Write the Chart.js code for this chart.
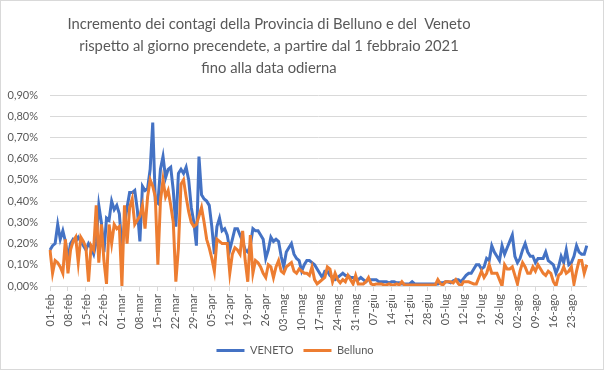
<!DOCTYPE html>
<html>
<head>
<meta charset="utf-8">
<script src="https://cdn.jsdelivr.net/npm/chart.js@4.4.0/dist/chart.umd.min.js"></script>
<style>
    html, body { margin: 0; padding: 0; background: #fff; }
    #box { position: relative; width: 604px; height: 370px; box-sizing: border-box; border: 1px solid #d9d9d9; background: #fff; }
    #titolo {
        position: absolute; left: 0; top: 11px; width: 536px;
        text-align: center; font-family: Lato, 'Liberation Sans', sans-serif;
        font-size: 14.8px; line-height: 22px; color: #595959; white-space: pre;
    }
    canvas { display: block; }
</style>
</head>
<body>
<div id="box">
    <canvas id="grafico" width="602" height="368"></canvas>
    <div id="titolo"></div>
</div>
<script>
// etichette settimanali dell'asse x (una ogni 7 giorni)
const etichetteSettimana = [
    '01-feb', '08-feb', '15-feb', '22-feb', '01-mar', '08-mar', '15-mar', '22-mar', '29-mar',
    '05-apr', '12-apr', '19-apr', '26-apr', '03-mag', '10-mag', '17-mag', '24-mag', '31-mag',
    '07-giu', '14-giu', '21-giu', '28-giu', '05-lug', '12-lug', '19-lug', '26-lug',
    '02-ago', '09-ago', '16-ago', '23-ago'
];

// incremento giornaliero in %, una riga per settimana
const veneto = [
    0.17, 0.19, 0.20, 0.29, 0.22, 0.26, 0.21,
    0.13, 0.20, 0.22, 0.21, 0.23, 0.21, 0.19,
    0.17, 0.20, 0.18, 0.15, 0.21, 0.38, 0.30,
    0.16, 0.32, 0.31, 0.40, 0.36, 0.38, 0.34,
    0.18, 0.29, 0.37, 0.44, 0.44, 0.45, 0.36,
    0.21, 0.47, 0.45, 0.46, 0.55, 0.77, 0.40,
    0.39, 0.55, 0.61, 0.51, 0.55, 0.56, 0.45,
    0.28, 0.53, 0.55, 0.53, 0.56, 0.50, 0.37,
    0.30, 0.19, 0.61, 0.43, 0.41, 0.40, 0.38,
    0.28, 0.15, 0.28, 0.32, 0.26, 0.27, 0.24,
    0.17, 0.22, 0.27, 0.27, 0.24, 0.21, 0.17,
    0.16, 0.19, 0.27, 0.26, 0.26, 0.24, 0.22,
    0.13, 0.17, 0.23, 0.21, 0.22, 0.21, 0.14,
    0.09, 0.16, 0.18, 0.20, 0.15, 0.13, 0.12,
    0.07, 0.10, 0.12, 0.12, 0.11, 0.10, 0.08,
    0.06, 0.04, 0.07, 0.07, 0.05, 0.04, 0.03,
    0.04, 0.05, 0.06, 0.05, 0.05, 0.04, 0.04,
    0.03, 0.03, 0.04, 0.03, 0.02, 0.03, 0.03,
    0.03, 0.03, 0.02, 0.02, 0.02, 0.02, 0.015,
    0.02, 0.02, 0.015, 0.015, 0.01, 0.01, 0.01,
    0.01, 0.02, 0.01, 0.01, 0.01, 0.01, 0.01,
    0.01, 0.01, 0.01, 0.01, 0.01, 0.015, 0.015,
    0.02, 0.02, 0.015, 0.025, 0.03, 0.03, 0.02,
    0.035, 0.05, 0.06, 0.06, 0.08, 0.10, 0.10,
    0.08, 0.09, 0.13, 0.12, 0.19, 0.16, 0.14,
    0.12, 0.19, 0.15, 0.18, 0.21, 0.24, 0.14,
    0.11, 0.13, 0.17, 0.20, 0.16, 0.14, 0.14,
    0.11, 0.13, 0.13, 0.13, 0.16, 0.12, 0.11,
    0.10, 0.06, 0.09, 0.14, 0.11, 0.17, 0.10,
    0.11, 0.14, 0.19, 0.16, 0.15, 0.15, 0.19
];

const belluno = [
    0.17, 0.06, 0.12, 0.11, 0.09, 0.06, 0.22,
    0.06, 0.17, 0.21, 0.23, 0.11, 0.23, 0.21,
    0.18, 0.02, 0.19, 0.17, 0.38, 0.11, 0.29,
    0.12, 0.01, 0.29, 0.20, 0.29, 0.27, 0.28,
    0.00, 0.38, 0.20, 0.37, 0.41, 0.29, 0.31,
    0.33, 0.38, 0.27, 0.42, 0.50, 0.47, 0.42,
    0.10, 0.40, 0.50, 0.42, 0.45, 0.38, 0.30,
    0.02, 0.18, 0.48, 0.50, 0.42, 0.35, 0.30,
    0.28, 0.29, 0.33, 0.37, 0.30, 0.22, 0.18,
    0.13, 0.07, 0.22, 0.21, 0.20, 0.20, 0.20,
    0.06, 0.15, 0.18, 0.17, 0.15, 0.26, 0.12,
    0.02, 0.24, 0.06, 0.12, 0.11, 0.09, 0.06,
    0.04, 0.10, 0.09, 0.04, 0.09, 0.12, 0.07,
    0.06, 0.09, 0.10, 0.11, 0.07, 0.06, 0.08,
    0.07, 0.06, 0.06, 0.05, 0.09, 0.03, 0.01,
    0.02, 0.03, 0.04, 0.09, 0.08, 0.02, 0.06,
    0.03, 0.015, 0.03, 0.02, 0.05, 0.03, 0.01,
    0.05, 0.01, 0.01, 0.01, 0.02, 0.04, 0.01,
    0.005, 0.01, 0.01, 0.01, 0.005, 0.005, 0.01,
    0.005, 0.005, 0.01, 0.005, 0.02, 0.005, 0.005,
    0.005, 0.005, 0.005, 0.005, 0.005, 0.005, 0.005,
    0.005, 0.005, 0.005, 0.005, 0.03, 0.01, 0.005,
    0.02, 0.02, 0.02, 0.015, 0.03, 0.01, 0.00,
    0.02, 0.02, 0.02, 0.015, 0.01, 0.01, 0.04,
    0.07, 0.04, 0.06, 0.10, 0.06, 0.06, 0.06,
    0.03, 0.00, 0.10, 0.08, 0.08, 0.09, 0.05,
    0.01, 0.07, 0.11, 0.09, 0.06, 0.06, 0.09,
    0.07, 0.10, 0.08, 0.06, 0.05, 0.07, 0.06,
    0.02, 0.00, 0.05, 0.06, 0.09, 0.06, 0.07,
    0.09, 0.01, 0.07, 0.12, 0.12, 0.06, 0.10
];

const titolo = [
    'Incremento dei contagi della Provincia di Belluno e del  Veneto',
    'rispetto al giorno precendete, a partire dal 1 febbraio 2021',
    'fino alla data odierna'
];

// il titolo di Excel non è centrato sul grafico, lo metto come testo html
document.getElementById('titolo').textContent = titolo.join('\n');

// una categoria per giorno, etichetta solo il lunedì
const giorni = veneto.map((_, i) => (i % 7 === 0 ? etichetteSettimana[i / 7] : ''));

const grigio = '#595959';
const griglia = '#d9d9d9';
Chart.defaults.font.family = "Lato, 'Liberation Sans', sans-serif";
Chart.defaults.color = grigio;

new Chart(document.getElementById('grafico'), {
    type: 'line',
    data: {
        labels: giorni,
        datasets: [
            {
                label: 'VENETO',
                data: veneto,
                borderColor: '#4472c4',
                backgroundColor: '#4472c4',
                borderWidth: 3,
                pointRadius: 0,
                tension: 0,
                order: 1
            },
            {
                label: 'Belluno',
                data: belluno,
                borderColor: '#ed7d31',
                backgroundColor: '#ed7d31',
                borderWidth: 3,
                pointRadius: 0,
                tension: 0,
                order: 0
            }
        ]
    },
    options: {
        responsive: false,
        animation: false,
        layout: { padding: { left: 0, right: 14, top: 94, bottom: 3 } },
        plugins: {
            title: { display: false },
            legend: {
                position: 'bottom',
                labels: {
                    usePointStyle: true,
                    pointStyle: 'line',
                    pointStyleWidth: 28,
                    color: grigio,
                    font: { size: 11 },
                    padding: 10,
                    sort: (a, b) => a.datasetIndex - b.datasetIndex
                }
            },
            tooltip: { enabled: false }
        },
        scales: {
            x: {
                afterFit: scale => { scale.height = 49; },
                border: { display: true, color: griglia },
                grid: {
                    drawOnChartArea: false,
                    drawTicks: true,
                    tickLength: 5,
                    color: ctx => (ctx.index % 7 === 0 ? griglia : 'rgba(0,0,0,0)')
                },
                ticks: {
                    autoSkip: false,
                    minRotation: 90,
                    maxRotation: 90,
                    padding: 3,
                    color: grigio,
                    font: { size: 11 }
                }
            },
            y: {
                min: 0,
                max: 0.9,
                afterFit: scale => { scale.width = 49; },
                border: { display: false },
                grid: { color: griglia, drawTicks: false },
                ticks: {
                    stepSize: 0.1,
                    padding: 12,
                    color: grigio,
                    font: { size: 11 },
                    callback: v => v.toFixed(2).replace('.', ',') + '%'
                }
            }
        }
    }
});
</script>
</body>
</html>
